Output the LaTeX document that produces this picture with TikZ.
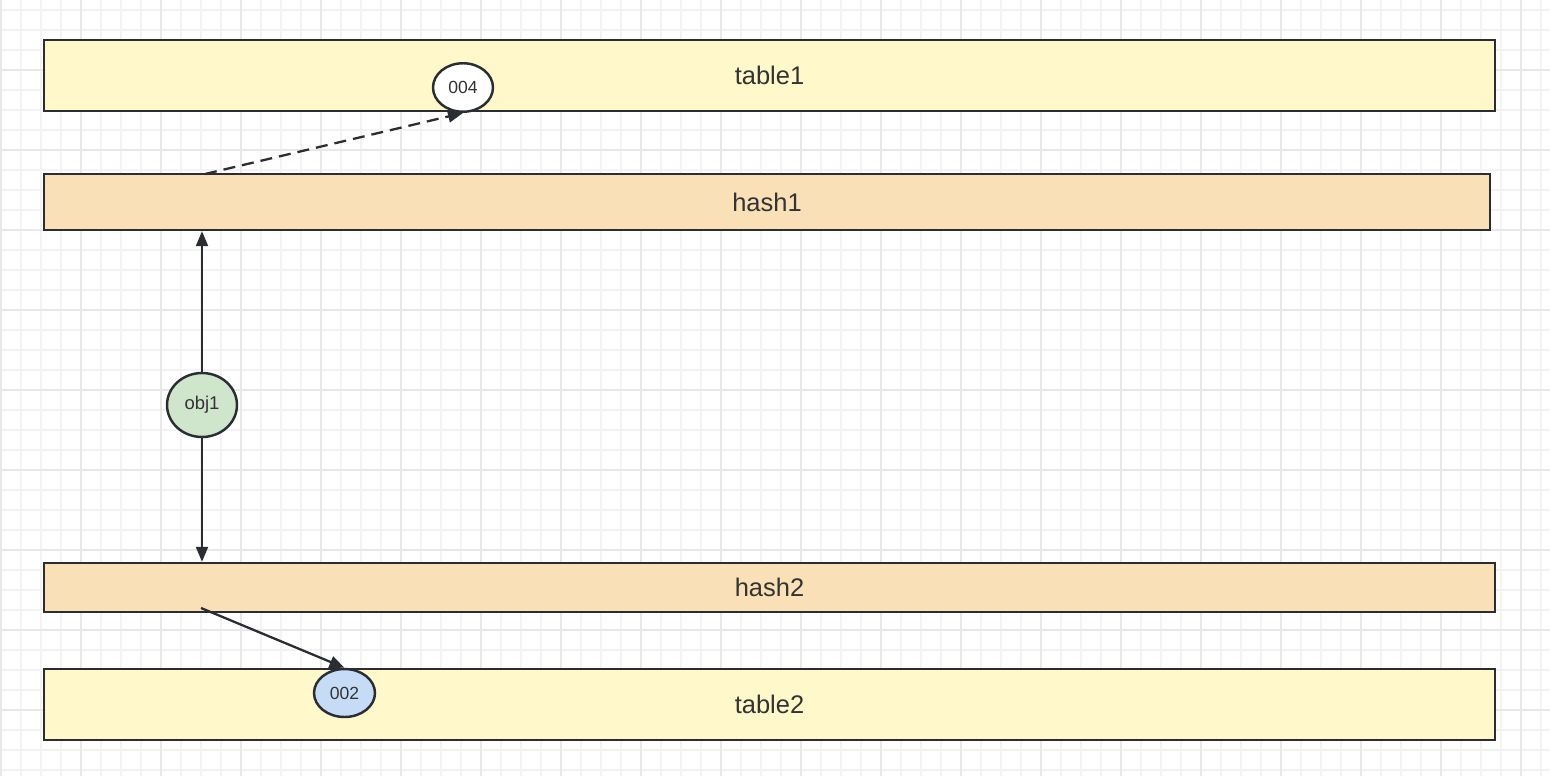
\documentclass[tikz,border=0pt]{standalone}
\usepackage{fontspec}
\setsansfont{Liberation Sans}
\usetikzlibrary{arrows.meta, positioning, shapes.geometric, calc}
\definecolor{cline}{HTML}{2A2E33}
\definecolor{ctext}{HTML}{333333}
\definecolor{ctable}{HTML}{FEF8CA}
\definecolor{chash}{HTML}{F9E0B7}
\definecolor{cobj}{HTML}{D0E6CC}
\definecolor{cslot}{HTML}{C6DCF6}
\definecolor{cgridminor}{HTML}{F3F3F3}
\definecolor{cgridmajor}{HTML}{E8E8E8}
\tikzset{
  every picture/.style={font=\sffamily, line width=1.4pt},
  bar/.style={draw=cline, fill=#1, rectangle, inner sep=0pt, minimum width=29.02cm, text=ctext, font=\sffamily\fontsize{14.5}{17}\selectfont},
  bar/.default=ctable,
  slot/.style={draw=cline, fill=#1, ellipse, inner sep=0pt, minimum width=1.2cm, minimum height=0.97cm, text=ctext, font=\sffamily\fontsize{10}{12}\selectfont},
  slot/.default=white,
  arrow/.style={-{Triangle[length=0.3cm, width=0.24cm]}, draw=cline, line width=1.3pt},
}

\begin{document}
\begin{tikzpicture}[x=0.02cm, y=-0.02cm]
  \useasboundingbox (0,0) rectangle (1550,776);
  % grid
  \foreach \gx in {0,20,...,1540}
    \draw[cgridminor, line width=1pt] (\gx+0.7,0) -- (\gx+0.7,776);
  \foreach \gy in {10,30,...,770}
    \draw[cgridminor, line width=1pt] (0,\gy) -- (1550,\gy);
  \foreach \gx in {0,80,...,1520}
    \draw[cgridmajor, line width=1.3pt] (\gx+0.7,0) -- (\gx+0.7,776);
  \foreach \gy in {70,150,...,710}
    \draw[cgridmajor, line width=1.3pt] (0,\gy) -- (1550,\gy);

  % bars
  \node[bar, minimum height=1.42cm] (table1) at (769.5,75.5) {table1};
  \node[bar=chash, minimum width=28.92cm, minimum height=1.12cm] (hash1) at (767,202) {hash1};
  \node[bar=chash, minimum height=0.98cm] (hash2) at (769.5,587.5) {hash2};
  \node[bar, minimum height=1.42cm] (table2) at (769.5,704.5) {table2};

  % entries
  \node[slot] (e004) at (463,87.5) {004};
  \node[slot=cslot, minimum width=1.22cm, minimum height=0.96cm] (e002) at (344.5,693) {002};
  \node[slot=cobj, minimum width=1.4cm, minimum height=1.28cm, font=\sffamily\fontsize{10.5}{12}\selectfont] (obj1) at (202,405) {obj1};

  % links
  \coordinate (h1out) at (205,174);
  \coordinate (h2out) at (201,608);
  \draw[arrow] (obj1.north) -- (obj1.north |- hash1.south);
  \draw[arrow] (obj1.south) -- (obj1.south |- hash2.north);
  \draw[arrow, dash pattern=on 0.24cm off 0.14cm] (h1out) -- (e004.south);
  \draw[arrow] (h2out) -- (e002.north);
\end{tikzpicture}
\end{document}
